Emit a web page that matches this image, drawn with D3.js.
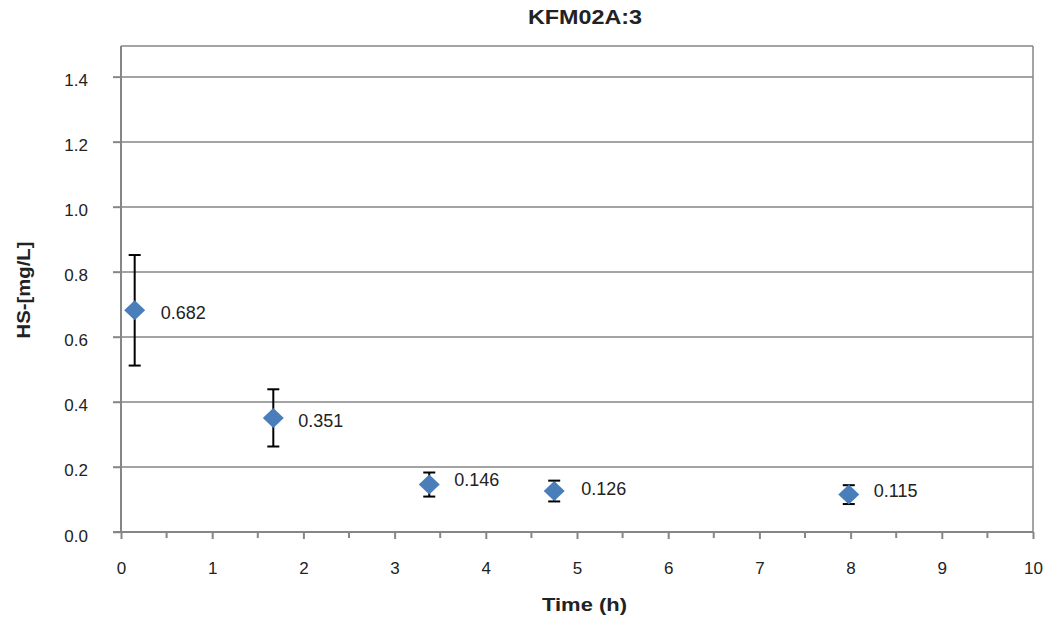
<!DOCTYPE html>
<html><head><meta charset="utf-8">
<script src="https://cdn.jsdelivr.net/npm/d3@7"></script>
<style>body{margin:0;background:#fff;}svg{display:block;font-family:"Liberation Sans",Arial,sans-serif;}</style>
</head><body>
<svg id="c" width="1045" height="621"></svg>
<script>
const times = [0.15, 1.67, 3.38, 4.75, 7.98];
const values = [0.682, 0.351, 0.146, 0.126, 0.115];
const errors = [0.17, 0.088, 0.037, 0.032, 0.029];
const labels = ["0.682", "0.351", "0.146", "0.126", "0.115"];
const xTicks = [0,1,2,3,4,5,6,7,8,9,10];
const yTicks = [0,0.2,0.4,0.6,0.8,1.0,1.2,1.4];

// label layout (pixel offsets, styling only)
const labelDx = [26, 25, 25, 27, 25];
const labelDy = [9, 9, 1, 4, 2];

const svg = d3.select("#c");
const L = 121, R = 1033, T = 46, B = 532;
const x = d3.scaleLinear().domain([0,10]).range([L,R]);
const y = d3.scaleLinear().domain([0,1.495]).range([B,T]);
const grid = "#868686";
const FONT = "Liberation Sans, Arial, sans-serif";

// gridlines
svg.append("g").selectAll("line").data(yTicks.filter(d=>d>0)).join("line")
  .attr("x1",L-8).attr("x2",R).attr("y1",d=>y(d)).attr("y2",d=>y(d))
  .attr("stroke",grid).attr("stroke-width",1.5);
// border top & right
svg.append("line").attr("x1",L).attr("x2",R).attr("y1",T).attr("y2",T).attr("stroke",grid).attr("stroke-width",1.5);
svg.append("line").attr("x1",R).attr("x2",R).attr("y1",T).attr("y2",B).attr("stroke",grid).attr("stroke-width",1.5);

// y axis
const ya = svg.append("g").attr("transform",`translate(${L},0)`)
  .call(d3.axisLeft(y).tickValues(yTicks).tickFormat(d3.format(".1f")).tickSize(8).tickPadding(25));
ya.select(".domain").remove();
ya.selectAll(".tick line").attr("stroke",grid).attr("stroke-width",1.5);
ya.selectAll("text").attr("font-size",17).attr("fill","#222").attr("font-family",FONT).attr("dy","0.53em");
svg.append("line").attr("x1",L).attr("x2",L).attr("y1",T).attr("y2",B+1).attr("stroke",grid).attr("stroke-width",2);

// x axis
const xa = svg.append("g").attr("transform",`translate(0,${B})`)
  .call(d3.axisBottom(x).tickValues(xTicks).tickSize(7).tickPadding(23));
xa.select(".domain").remove();
xa.selectAll(".tick line").attr("stroke",grid).attr("stroke-width",2);
xa.selectAll("text").attr("font-size",17).attr("fill","#222").attr("font-family",FONT);
const minor = xTicks.slice(0,-1).map(d=>d+0.5);
svg.append("g").selectAll("line").data(minor).join("line")
  .attr("x1",d=>x(d)).attr("x2",d=>x(d)).attr("y1",B).attr("y2",B+6)
  .attr("stroke",grid).attr("stroke-width",2);
svg.append("line").attr("x1",L-8).attr("x2",R).attr("y1",B).attr("y2",B).attr("stroke",grid).attr("stroke-width",2);

// error bars
const eg = svg.append("g").attr("stroke","#000").attr("stroke-width",2);
times.forEach((t,i)=>{
  const cx = x(t), y1 = y(values[i]+errors[i]), y2 = y(values[i]-errors[i]);
  eg.append("line").attr("x1",cx).attr("x2",cx).attr("y1",y1).attr("y2",y2);
  eg.append("line").attr("x1",cx-6).attr("x2",cx+6).attr("y1",y1).attr("y2",y1);
  eg.append("line").attr("x1",cx-6).attr("x2",cx+6).attr("y1",y2).attr("y2",y2);
});

// markers
svg.append("g").selectAll("path").data(times).join("path")
  .attr("transform",(d,i)=>`translate(${x(d)},${y(values[i])})`)
  .attr("d","M0,-10L10.5,0L0,10L-10.5,0Z")
  .attr("fill","#4a7ebb");

// data labels
svg.append("g").selectAll("text").data(times).join("text")
  .attr("x",(d,i)=>x(d)+labelDx[i]).attr("y",(d,i)=>y(values[i])+labelDy[i])
  .text((d,i)=>labels[i]).attr("font-size",18).attr("fill","#222");

// titles
svg.append("text").attr("x",585).attr("y",24).attr("text-anchor","middle")
  .attr("font-weight","bold").attr("font-size",20).attr("fill","#222")
  .attr("textLength",114).attr("lengthAdjust","spacingAndGlyphs").text("KFM02A:3");
svg.append("text").attr("x",584.5).attr("y",611).attr("text-anchor","middle")
  .attr("font-weight","bold").attr("font-size",18).attr("fill","#222")
  .attr("textLength",85).attr("lengthAdjust","spacingAndGlyphs").text("Time (h)");
svg.append("text").attr("transform","translate(30,290) rotate(-90)").attr("text-anchor","middle")
  .attr("font-weight","bold").attr("font-size",18).attr("fill","#222")
  .attr("textLength",97).attr("lengthAdjust","spacingAndGlyphs").text("HS-[mg/L]");
</script>
</body></html>
